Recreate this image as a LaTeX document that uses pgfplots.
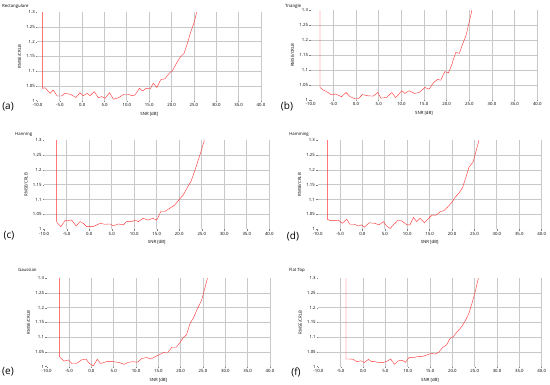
\documentclass[border=0pt]{standalone}
\usepackage{pgfplots}
\pgfplotsset{compat=1.18}
\usepackage{fontspec}
\setmainfont{Open Sans}
\definecolor{curve}{HTML}{FF3030}
\definecolor{gridc}{HTML}{C8C8C8}
\pgfplotsset{panel/.style={
  scale only axis, xmin=-10, xmax=40, ymin=1, ymax=1.3,
  axis line style={draw=none},
  xtick={-5,0,5,10,15,20,25,30,35,40}, extra x ticks={-10}, extra x tick style={grid=none},
  ytick={1.05,1.1,1.15,1.2,1.25}, extra y ticks={1,1.3}, extra y tick style={grid=none},
  grid=major, major grid style={color=gridc, line width=0.8pt},
  tick style={color=gray, line width=0.4pt}, major tick length=1.5pt, tick align=outside,
  tick pos=left,
  /pgf/number format/assume math mode=true,
  x tick label style={/pgf/number format/.cd, fixed, fixed zerofill, precision=1},
  y tick label style={/pgf/number format/.cd, fixed, precision=2},
  ticklabel style={font=\fontsize{4.3}{5}\selectfont, inner sep=1pt},
  xlabel={SNR [dB]}, ylabel={RMSE/CRLB},
  label style={font=\fontsize{4.3}{5}\selectfont, inner sep=1pt},
  clip=true,
  cycle list={{color=curve, line width=1.1pt, mark=none, line join=round}},
}}
\begin{document}
\begin{tikzpicture}
\useasboundingbox (0,0) rectangle (550pt,385pt);
% (a)
\begin{axis}[panel, at={(37.5pt,284.3pt)}, anchor=south west, width=223.5pt, height=88.4pt]
\addplot coordinates {(-8.84,1.5) (-8.84,1.042) (-8.3,1.044) (-7.2,1.025) (-6.5,1.036) (-5.6,1.016) (-4.6,1.016) (-3.85,1.025) (-2.7,1.022) (-1.4,1.011) (-0.5,1.027) (0.2,1.017) (1.15,1.025) (1.75,1.017) (2.7,1.031) (3.6,1.010) (4.35,1.014) (5.1,1.008) (6.1,1.027) (7.0,1.005) (8.1,1.010) (9.35,1.022) (10.3,1.022) (11.1,1.017) (11.8,1.019) (12.8,1.042) (13.5,1.033) (14.3,1.042) (15.2,1.040) (15.9,1.059) (16.7,1.045) (17.6,1.072) (18.5,1.074) (19.6,1.095) (20.2,1.102) (21.1,1.127) (21.9,1.147) (22.8,1.161) (23.5,1.193) (24.3,1.234) (25.1,1.268) (25.6,1.30) (25.8,1.32)};
\end{axis}
% (b)
\begin{axis}[panel, at={(310.7pt,285pt)}, anchor=south west, width=226.6pt, height=89.7pt]
\addplot coordinates {(-7.94,1.5) (-7.94,1.042) (-7.2,1.033) (-6.5,1.028) (-5.4,1.017) (-4.5,1.020) (-3.2,1.011) (-2.2,1.025) (-1.3,1.011) (-0.2,1.004) (0.5,1.004) (1.4,1.018) (2.7,1.014) (3.8,1.013) (4.8,1.025) (5.5,1.006) (6.8,1.009) (7.9,1.025) (8.75,1.008) (10.1,1.031) (10.8,1.022) (11.7,1.031) (12.9,1.022) (13.9,1.025) (15.2,1.042) (16.1,1.036) (17.1,1.058) (18.0,1.069) (18.7,1.066) (19.6,1.095) (20.4,1.091) (21.1,1.117) (22.0,1.159) (22.8,1.156) (23.5,1.186) (24.3,1.217) (24.9,1.256) (25.5,1.295) (25.7,1.32)};
\end{axis}
% (c)
\begin{axis}[panel, at={(44.2pt,155.7pt)}, anchor=south west, width=225.1pt, height=89pt]
\addplot coordinates {(-7.23,1.5) (-7.23,1.026) (-7.1,1.022) (-6.3,1.009) (-5.4,1.029) (-3.9,1.031) (-2.9,1.011) (-2.05,1.026) (-1.3,1.020) (-0.57,1.009) (0.9,1.009) (2.4,1.020) (3.5,1.017) (4.6,1.018) (5.35,1.012) (6.5,1.018) (7.6,1.015) (8.3,1.026) (9.4,1.026) (10.2,1.031) (10.9,1.026) (12.0,1.037) (13.1,1.031) (14.1,1.037) (15.0,1.031) (15.9,1.060) (16.8,1.060) (17.9,1.071) (19.0,1.082) (20.2,1.104) (20.9,1.116) (21.9,1.144) (22.6,1.161) (23.5,1.200) (24.6,1.251) (25.5,1.296) (25.7,1.32)};
\end{axis}
% (d)
\begin{axis}[panel, at={(317.6pt,155.7pt)}, anchor=south west, width=224.1pt, height=89pt]
\addplot coordinates {(-7.83,1.5) (-7.83,1.034) (-7.2,1.029) (-6.1,1.029) (-5.35,1.031) (-4.5,1.020) (-3.5,1.034) (-2.8,1.017) (-1.8,1.017) (-0.9,1.011) (-0.2,1.015) (0.4,1.007) (1.5,1.022) (2.8,1.020) (3.7,1.015) (4.7,1.026) (5.4,1.011) (6.2,1.003) (7.1,1.018) (8.0,1.031) (8.8,1.028) (9.9,1.015) (10.6,1.015) (11.4,1.040) (12.1,1.026) (12.9,1.037) (13.8,1.022) (14.6,1.034) (15.5,1.048) (16.5,1.048) (17.4,1.060) (18.1,1.062) (18.9,1.073) (19.8,1.088) (20.8,1.110) (21.5,1.121) (22.3,1.139) (23.0,1.171) (23.8,1.210) (24.7,1.227) (25.3,1.261) (26.0,1.300) (26.2,1.32)};
\end{axis}
% (e)
\begin{axis}[panel, at={(46.7pt,18.3pt)}, anchor=south west, width=223.3pt, height=88.4pt]
\addplot coordinates {(-7.16,1.5) (-7.16,1.034) (-7.0,1.031) (-6.1,1.019) (-5.15,1.023) (-4.4,1.011) (-3.3,1.011) (-2.2,1.023) (-1.2,1.026) (-0.45,1.011) (0.45,1.003) (1.3,1.025) (2.1,1.011) (3.4,1.017) (4.9,1.017) (6.3,1.014) (7.3,1.008) (8.3,1.015) (9.4,1.017) (10.3,1.015) (11.3,1.028) (12.4,1.031) (13.3,1.026) (14.3,1.034) (15.4,1.042) (16.3,1.049) (17.2,1.049) (18.0,1.066) (19.0,1.066) (19.9,1.083) (20.6,1.099) (21.3,1.108) (22.1,1.147) (22.8,1.164) (23.8,1.198) (24.7,1.226) (25.4,1.266) (26.0,1.300) (26.2,1.32)};
\end{axis}
% (f)
\begin{axis}[panel, at={(318.4pt,18.3pt)}, anchor=south west, width=223.3pt, height=88.4pt]
\addplot coordinates {(-3.82,1.5) (-3.82,1.026) (-2.9,1.026) (-2.2,1.025) (-1.4,1.017) (-0.5,1.020) (0.3,1.014) (1.2,1.025) (1.9,1.017) (2.7,1.017) (3.55,1.014) (4.5,1.014) (5.4,1.019) (6.2,1.026) (7.0,1.008) (7.9,1.020) (8.8,1.022) (9.5,1.015) (10.3,1.031) (11.3,1.031) (12.2,1.034) (13.1,1.034) (14.3,1.040) (15.2,1.045) (16.1,1.043) (16.9,1.048) (17.8,1.065) (18.7,1.074) (19.5,1.096) (20.2,1.102) (21.1,1.119) (22.1,1.136) (23.0,1.159) (23.7,1.181) (24.5,1.221) (25.2,1.260) (25.8,1.300) (26.0,1.32)};
\end{axis}
% titles
\begin{scope}[every node/.style={font=\fontsize{4.3}{5}\selectfont, anchor=west, inner sep=0pt}]
\node at (2pt,379pt) {Rectangulare};
\node at (285pt,379pt) {Triangle};
\node at (15pt,251pt) {Hanning};
\node at (289pt,251pt) {Hamming};
\node at (18pt,115pt) {Gaussian};
\node at (289pt,115pt) {Flat Top};
\end{scope}
\begin{scope}[every node/.style={font=\fontsize{10}{12}\selectfont, inner sep=0pt}]
\node at (8pt,278pt) {(a)};
\node at (287pt,279pt) {(b)};
\node at (9pt,149pt) {(c)};
\node at (293pt,149pt) {(d)};
\node at (8pt,13pt) {(e)};
\node at (296pt,13pt) {(f)};
\end{scope}
\end{tikzpicture}
\end{document}
